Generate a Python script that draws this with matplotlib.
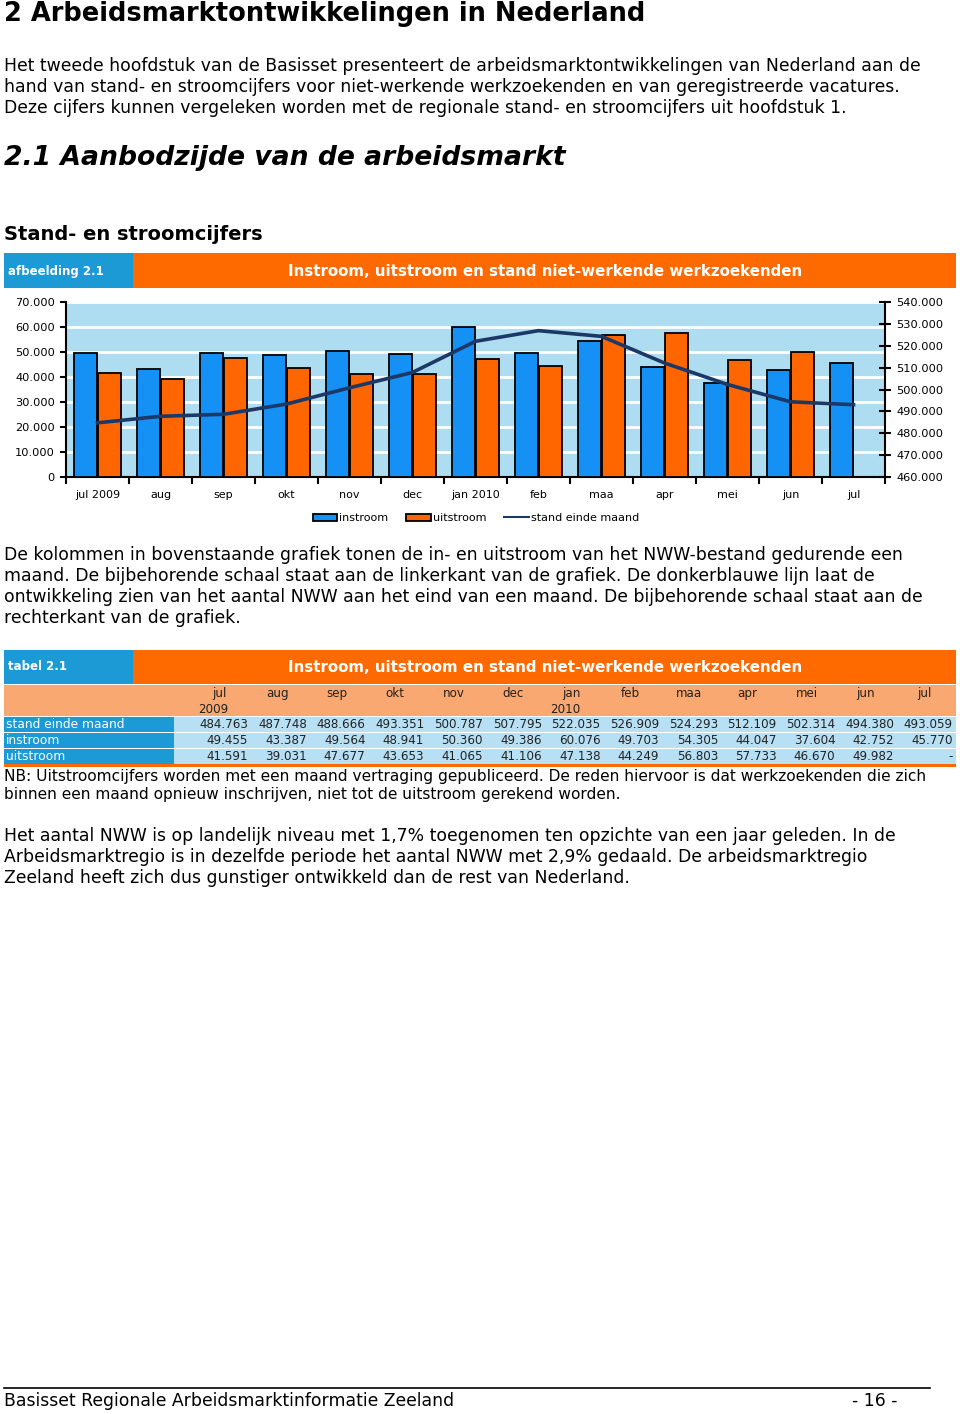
import numpy as np
import matplotlib.pyplot as plt
from matplotlib.patches import Rectangle, Patch
from matplotlib.lines import Line2D
from matplotlib.ticker import FixedLocator, FuncFormatter

plt.rcParams['font.family'] = ['DejaVu Sans']

# data
maanden = ['jul 2009', 'aug', 'sep', 'okt', 'nov', 'dec', 'jan 2010',
           'feb', 'maa', 'apr', 'mei', 'jun', 'jul']
kop_maand = ['jul', 'aug', 'sep', 'okt', 'nov', 'dec', 'jan', 'feb', 'maa', 'apr', 'mei', 'jun', 'jul']
kop_jaar = ['2009', '', '', '', '', '', '2010', '', '', '', '', '', '']
stand = [484763, 487748, 488666, 493351, 500787, 507795, 522035,
         526909, 524293, 512109, 502314, 494380, 493059]
instroom = [49455, 43387, 49564, 48941, 50360, 49386, 60076,
            49703, 54305, 44047, 37604, 42752, 45770]
uitstroom = [41591, 39031, 47677, 43653, 41065, 41106, 47138,
             44249, 56803, 57733, 46670, 49982, np.nan]

BLAUW = '#1b9ad6'
ORANJE = '#ff6a00'
LICHTORANJE = '#f8a870'
LICHTBLAUW = '#b8e0f4'
PLOTBG = '#aedcf0'
BAR_BLAUW = '#1590f5'
BAR_ORANJE = '#ff6600'
LIJN = '#1c3866'

W, H = 960, 1414
fig = plt.figure(figsize=(W / 100, H / 100), dpi=100)


def fx(x):
    return x / W


def fy(y):
    return 1 - y / H


def txt(x, y, s, **kw):
    kw.setdefault('va', 'center')
    kw.setdefault('ha', 'left')
    fig.text(fx(x), fy(y), s, **kw)


def rect(x0, y0, x1, y1, color):
    fig.patches.append(Rectangle((fx(x0), fy(y1)), fx(x1) - fx(x0), fy(y0) - fy(y1),
                                 transform=fig.transFigure, color=color, lw=0, zorder=0))


# tekst boven
txt(4, 14, '2 Arbeidsmarktontwikkelingen in Nederland', fontsize=18.5, fontweight='bold')
alinea1 = ['Het tweede hoofdstuk van de Basisset presenteert de arbeidsmarktontwikkelingen van Nederland aan de',
           'hand van stand- en stroomcijfers voor niet-werkende werkzoekenden en van geregistreerde vacatures.',
           'Deze cijfers kunnen vergeleken worden met de regionale stand- en stroomcijfers uit hoofdstuk 1.']
for i, r in enumerate(alinea1):
    txt(4, 66 + 21 * i, r, fontsize=12.4)
txt(4, 158, '2.1 Aanbodzijde van de arbeidsmarkt', fontsize=19.2, fontweight='bold', style='italic')
txt(4, 235, 'Stand- en stroomcijfers', fontsize=14, fontweight='bold')

# kopbalk grafiek
rect(4, 253, 133, 288, BLAUW)
rect(133, 253, 956, 288, ORANJE)
txt(8, 271, 'afbeelding 2.1', fontsize=8.5, fontweight='bold', color='white')
txt(545, 271, 'Instroom, uitstroom en stand niet-werkende werkzoekenden', fontsize=10.8,
    fontweight='bold', color='white', ha='center')

# grafiek
ax = fig.add_axes([fx(66), fy(477), fx(885) - fx(66), fy(302) - fy(477)])
ax.set_facecolor(PLOTBG)
x = np.arange(len(maanden))
bw = 0.36
ax.bar(x - 0.19, instroom, width=bw, color=BAR_BLAUW, edgecolor='black', lw=1.3, zorder=3)
ax.bar(x + 0.19, uitstroom, width=bw, color=BAR_ORANJE, edgecolor='black', lw=1.3, zorder=3)
ax.set_xlim(-0.5, len(maanden) - 0.5)
ax.set_ylim(0, 70000)
ax.set_yticks(np.arange(0, 70001, 10000))
ax.yaxis.set_major_formatter(FuncFormatter(lambda v, p: '0' if v == 0 else f'{int(v):,}'.replace(',', '.')))
ax.grid(axis='y', color='white', lw=2, zorder=1)
ax.set_axisbelow(True)
ax.xaxis.set_major_locator(FixedLocator(np.arange(-0.5, len(maanden), 1)))
ax.xaxis.set_minor_locator(FixedLocator(x))
ax.set_xticklabels([])
ax.set_xticklabels(maanden, minor=True)
ax.tick_params(axis='x', which='major', direction='out', length=5, width=1.5)
ax.tick_params(axis='x', which='minor', length=0, pad=9, labelsize=8)
ax.tick_params(axis='y', direction='out', length=4, width=1.5, labelsize=8.2, pad=4)
for s in ['top', 'right']:
    ax.spines[s].set_visible(False)
for s in ['left', 'bottom']:
    ax.spines[s].set_linewidth(1.5)

ax2 = ax.twinx()
ax2.plot(x, stand, color=LIJN, lw=2.6, zorder=5)
ax2.set_ylim(460000, 540000)
ax2.set_yticks(np.arange(460000, 540001, 10000))
ax2.yaxis.set_major_formatter(FuncFormatter(lambda v, p: f'{int(v):,}'.replace(',', '.')))
ax2.tick_params(axis='y', direction='inout', length=8, width=1.5, labelsize=8.2, pad=4)
ax2.spines['right'].set_linewidth(1.5)
for s in ['top', 'left', 'bottom']:
    ax2.spines[s].set_visible(False)

handles = [Patch(facecolor=BAR_BLAUW, edgecolor='black', lw=1.3),
           Patch(facecolor=BAR_ORANJE, edgecolor='black', lw=1.3),
           Line2D([], [], color=LIJN, lw=1.5)]
fig.legend(handles, ['instroom', 'uitstroom', 'stand einde maand'], loc='center',
           bbox_to_anchor=(fx(476), fy(518)), ncol=3, frameon=False, fontsize=8,
           handlelength=2.2, handleheight=0.6, handletextpad=0.2, columnspacing=1.6)

# tekst onder grafiek
alinea2 = ['De kolommen in bovenstaande grafiek tonen de in- en uitstroom van het NWW-bestand gedurende een',
           'maand. De bijbehorende schaal staat aan de linkerkant van de grafiek. De donkerblauwe lijn laat de',
           'ontwikkeling zien van het aantal NWW aan het eind van een maand. De bijbehorende schaal staat aan de',
           'rechterkant van de grafiek.']
for i, r in enumerate(alinea2):
    txt(4, 555 + 21 * i, r, fontsize=12.4)

# tabel
rect(4, 650, 133, 684, BLAUW)
rect(133, 650, 956, 684, ORANJE)
txt(8, 667, 'tabel 2.1', fontsize=8.5, fontweight='bold', color='white')
txt(545, 667, 'Instroom, uitstroom en stand niet-werkende werkzoekenden', fontsize=10.8,
    fontweight='bold', color='white', ha='center')
rect(4, 685, 956, 716, LICHTORANJE)
rijen = [('stand einde maand', stand), ('instroom', instroom), ('uitstroom', uitstroom)]
for i, (naam, waarden) in enumerate(rijen):
    y0 = 717 + 16 * i
    rect(4, y0, 174, y0 + 15, BLAUW)
    rect(174, y0, 956, y0 + 15, LICHTBLAUW)
    txt(6, y0 + 7.5, naam, fontsize=8.8, color='white')
    for k, v in enumerate(waarden):
        s = '-' if np.isnan(v) else f'{int(v):,}'.replace(',', '.')
        txt(248 + 58.75 * k, y0 + 7.5, s, fontsize=8.6, ha='right', color='#222222')
rect(4, 764, 956, 767, ORANJE)
for k in range(len(kop_maand)):
    cx = 219 + 58.75 * k
    txt(cx, 697, kop_maand[k], fontsize=8.6, ha='center', va='baseline', color='#222222')
    if kop_jaar[k]:
        txt(cx - 6, 713, kop_jaar[k], fontsize=8.6, ha='center', va='baseline', color='#222222')

nb = ['NB: Uitstroomcijfers worden met een maand vertraging gepubliceerd. De reden hiervoor is dat werkzoekenden die zich',
      'binnen een maand opnieuw inschrijven, niet tot de uitstroom gerekend worden.']
for i, r in enumerate(nb):
    txt(4, 776 + 19 * i, r, fontsize=11.1)

alinea3 = ['Het aantal NWW is op landelijk niveau met 1,7% toegenomen ten opzichte van een jaar geleden. In de',
           'Arbeidsmarktregio is in dezelfde periode het aantal NWW met 2,9% gedaald. De arbeidsmarktregio',
           'Zeeland heeft zich dus gunstiger ontwikkeld dan de rest van Nederland.']
for i, r in enumerate(alinea3):
    txt(4, 836 + 21 * i, r, fontsize=12.4)

# voettekst
fig.add_artist(Line2D([fx(4), fx(930)], [fy(1388), fy(1388)], color='black', lw=1.2,
                      transform=fig.transFigure))
txt(4, 1401, 'Basisset Regionale Arbeidsmarktinformatie Zeeland', fontsize=12.4)
txt(852, 1401, '- 16 -', fontsize=12.4)

fig.savefig('out.png', dpi=100)
